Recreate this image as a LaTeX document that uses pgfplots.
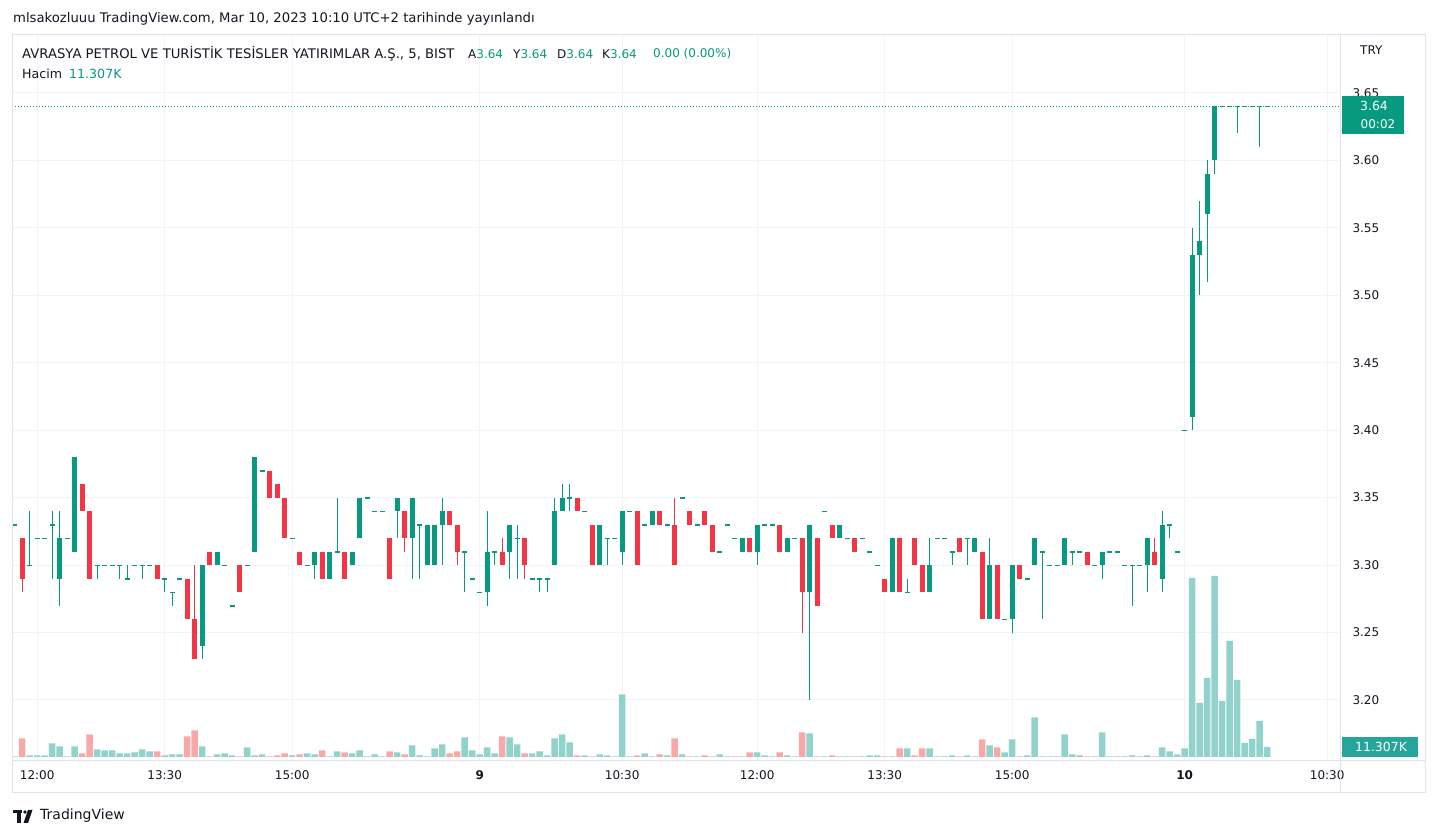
\documentclass[border=0pt]{standalone}
\usepackage{pgfplots}
\pgfplotsset{compat=1.18}
\usepackage{pgfplotstable}
\usepackage{fontspec}
\setmainfont{DejaVu Sans}
\definecolor{upc}{HTML}{089981}
\definecolor{dnc}{HTML}{F23645}
\definecolor{upv}{HTML}{92D2CC}
\definecolor{dnv}{HTML}{F7A9A8}
\definecolor{gridc}{HTML}{F0F3FA}
\definecolor{framec}{HTML}{E0E3EB}
\definecolor{txt}{HTML}{131722}
\definecolor{volbox}{HTML}{26A69A}

% i = bar index, o h l c = open high low close, v = volume bar height (px)
\pgfplotstableread{
i o h l c v
0 3.33 3.33 3.33 3.33 0.7
1 3.32 3.32 3.28 3.29 18.7
2 3.30 3.34 3.30 3.30 1.7
3 3.32 3.32 3.32 3.32 1.7
4 3.32 3.32 3.32 3.32 1.7
5 3.33 3.34 3.29 3.33 13.7
6 3.29 3.34 3.27 3.32 10.7
7 3.32 3.32 3.32 3.32 0.7
8 3.31 3.38 3.31 3.38 10.7
9 3.36 3.36 3.34 3.34 3.7
10 3.34 3.34 3.29 3.29 22.7
11 3.30 3.30 3.29 3.30 7.7
12 3.30 3.30 3.30 3.30 6.7
13 3.30 3.30 3.30 3.30 6.7
14 3.30 3.30 3.29 3.30 3.7
15 3.29 3.30 3.29 3.29 3.7
16 3.30 3.30 3.30 3.30 4.7
17 3.30 3.30 3.29 3.30 7.7
18 3.30 3.30 3.30 3.30 5.7
19 3.30 3.30 3.29 3.29 5.7
20 3.29 3.29 3.28 3.29 1.7
21 3.28 3.28 3.27 3.28 2.7
22 3.29 3.29 3.29 3.29 2.7
23 3.29 3.29 3.26 3.26 20.7
24 3.26 3.30 3.23 3.23 26.7
25 3.24 3.30 3.23 3.30 10.7
26 3.31 3.31 3.30 3.30 0.7
27 3.30 3.31 3.30 3.31 2.7
28 3.30 3.30 3.30 3.30 3.7
29 3.27 3.27 3.27 3.27 1.7
30 3.30 3.30 3.28 3.28 0.7
31 3.30 3.30 3.30 3.30 9.7
32 3.31 3.38 3.31 3.38 1.7
33 3.37 3.37 3.37 3.37 2.7
34 3.37 3.37 3.35 3.35 0.7
35 3.36 3.36 3.35 3.35 1.7
36 3.35 3.35 3.32 3.32 3.7
37 3.32 3.32 3.32 3.32 1.7
38 3.31 3.31 3.30 3.30 2.7
39 3.30 3.30 3.30 3.30 3.7
40 3.30 3.31 3.29 3.31 2.7
41 3.31 3.31 3.29 3.29 6.7
42 3.29 3.31 3.29 3.31 0.7
43 3.31 3.35 3.31 3.31 5.7
44 3.31 3.31 3.29 3.29 4.7
45 3.30 3.31 3.30 3.31 3.7
46 3.32 3.35 3.32 3.35 6.7
47 3.35 3.35 3.35 3.35 0.7
48 3.34 3.34 3.34 3.34 2.7
49 3.34 3.34 3.34 3.34 0.7
50 3.32 3.32 3.29 3.29 5.7
51 3.34 3.35 3.32 3.35 4.7
52 3.34 3.34 3.31 3.32 2.7
53 3.32 3.35 3.29 3.35 11.7
54 3.33 3.33 3.29 3.33 1.7
55 3.30 3.33 3.30 3.33 0.7
56 3.30 3.33 3.30 3.33 8.7
57 3.33 3.35 3.30 3.34 12.7
58 3.34 3.34 3.33 3.33 3.7
59 3.33 3.33 3.30 3.31 5.7
60 3.31 3.31 3.28 3.31 19.7
61 3.29 3.29 3.29 3.29 6.7
62 3.28 3.28 3.28 3.28 2.7
63 3.28 3.34 3.27 3.31 9.7
64 3.31 3.31 3.30 3.31 3.7
65 3.31 3.32 3.30 3.30 20.7
66 3.31 3.33 3.29 3.33 19.7
67 3.32 3.33 3.29 3.32 12.7
68 3.32 3.32 3.29 3.30 3.7
69 3.29 3.29 3.29 3.29 3.7
70 3.29 3.29 3.28 3.29 5.7
71 3.29 3.29 3.28 3.29 1.7
72 3.30 3.35 3.30 3.34 18.7
73 3.34 3.36 3.34 3.35 22.7
74 3.35 3.36 3.34 3.35 14.7
75 3.35 3.35 3.34 3.34 1.7
76 3.34 3.34 3.34 3.34 1.7
77 3.33 3.33 3.30 3.30 0.7
78 3.30 3.33 3.30 3.33 2.7
79 3.32 3.32 3.30 3.32 1.7
80 3.32 3.32 3.32 3.32 0.7
81 3.31 3.34 3.30 3.34 62.7
82 3.34 3.34 3.34 3.34 0.7
83 3.34 3.34 3.30 3.30 1.7
84 3.33 3.33 3.33 3.33 3.7
85 3.33 3.34 3.33 3.34 0.7
86 3.34 3.34 3.33 3.33 2.7
87 3.33 3.33 3.33 3.33 1.7
88 3.33 3.35 3.30 3.30 18.7
89 3.35 3.35 3.35 3.35 2.7
90 3.34 3.34 3.33 3.33 0.7
91 3.33 3.33 3.33 3.33 0.7
92 3.34 3.34 3.33 3.33 1.7
93 3.33 3.33 3.31 3.31 0.7
94 3.31 3.31 3.31 3.31 2.7
95 3.33 3.33 3.33 3.33 0.7
96 3.32 3.32 3.32 3.32 0.7
97 3.31 3.32 3.31 3.32 0.7
98 3.32 3.32 3.31 3.31 4.7
99 3.31 3.33 3.30 3.33 4.7
100 3.33 3.33 3.33 3.33 1.7
101 3.33 3.33 3.33 3.33 0.7
102 3.33 3.33 3.31 3.31 4.7
103 3.31 3.32 3.31 3.32 1.7
104 3.32 3.32 3.32 3.32 0.7
105 3.32 3.32 3.25 3.28 24.7
106 3.28 3.33 3.20 3.33 23.7
107 3.32 3.32 3.27 3.27 0.7
108 3.34 3.34 3.34 3.34 0.7
109 3.33 3.33 3.32 3.32 1.7
110 3.32 3.33 3.32 3.33 0.7
111 3.32 3.32 3.32 3.32 0.7
112 3.32 3.32 3.31 3.31 0.7
113 3.32 3.32 3.32 3.32 0.7
114 3.31 3.31 3.31 3.31 1.7
115 3.30 3.30 3.30 3.30 1.7
116 3.29 3.29 3.28 3.28 0.7
117 3.28 3.32 3.28 3.32 0.7
118 3.32 3.32 3.28 3.28 8.7
119 3.28 3.29 3.28 3.28 8.7
120 3.32 3.32 3.30 3.30 1.7
121 3.30 3.30 3.28 3.28 8.7
122 3.28 3.32 3.28 3.30 8.7
123 3.32 3.32 3.32 3.32 0.7
124 3.32 3.32 3.32 3.32 0.7
125 3.31 3.31 3.30 3.31 1.7
126 3.32 3.32 3.31 3.31 0.7
127 3.32 3.32 3.30 3.32 1.7
128 3.31 3.32 3.31 3.32 0.7
129 3.31 3.31 3.26 3.26 17.7
130 3.26 3.32 3.26 3.30 11.7
131 3.30 3.30 3.26 3.26 9.7
132 3.26 3.26 3.26 3.26 4.7
133 3.26 3.30 3.25 3.30 17.7
134 3.30 3.30 3.29 3.29 0.7
135 3.29 3.29 3.29 3.29 1.7
136 3.30 3.32 3.30 3.32 39.7
137 3.31 3.31 3.26 3.31 0.7
138 3.30 3.30 3.30 3.30 0.7
139 3.30 3.30 3.30 3.30 0.7
140 3.30 3.32 3.30 3.32 22.7
141 3.31 3.31 3.30 3.31 2.7
142 3.31 3.31 3.31 3.31 1.7
143 3.31 3.31 3.30 3.30 0.7
144 3.30 3.30 3.30 3.30 0.7
145 3.30 3.31 3.29 3.31 24.7
146 3.31 3.31 3.31 3.31 0.7
147 3.31 3.31 3.31 3.31 0.7
148 3.30 3.30 3.30 3.30 0.7
149 3.30 3.30 3.27 3.30 1.7
150 3.30 3.30 3.30 3.30 0.7
151 3.30 3.32 3.28 3.32 1.7
152 3.31 3.32 3.30 3.30 0.7
153 3.29 3.34 3.28 3.33 9.7
154 3.33 3.33 3.32 3.33 5.7
155 3.31 3.31 3.31 3.31 2.7
156 3.40 3.40 3.40 3.40 8.7
157 3.41 3.55 3.40 3.53 179
158 3.53 3.57 3.50 3.54 54
159 3.56 3.60 3.51 3.59 79
160 3.60 3.64 3.59 3.64 181
161 3.64 3.64 3.64 3.64 56
162 3.64 3.64 3.64 3.64 116
163 3.64 3.64 3.62 3.64 77
164 3.64 3.64 3.64 3.64 14
165 3.64 3.64 3.64 3.64 18
166 3.64 3.64 3.61 3.64 36
167 3.64 3.64 3.64 3.64 10
}\cdata

\pgfplotsset{
  upbar/.style={restrict expr to domain={\thisrow{c}-\thisrow{o}}{-0.004:1}},
  dnbar/.style={restrict expr to domain={\thisrow{c}-\thisrow{o}}{-1:-0.005}},
  frame/.style={at={(12pt,77pt)}, anchor=south west, scale only axis,
    width=1328pt, height=725pt, xmin=-0.36, xmax=176.71},
}
\newcommand{\tfont}{\fontsize{12}{14}\selectfont}
\newcommand{\hfont}{\fontsize{13.2}{15}\selectfont}

\begin{document}
\begin{tikzpicture}[x=1pt,y=1pt]
\useasboundingbox (0,0) rectangle (1437,837);
\fill[white] (0,0) rectangle (1437,837);

\begin{axis}[frame,
    ymin=3.1555, ymax=3.6929,
    axis line style={draw=none},
    major tick length=0pt,
    xtick={3,20,37,62,81,99,116,133,156,175},
    xticklabels={12:00,13:30,15:00,\textbf{9},10:30,12:00,13:30,15:00,\textbf{10},10:30},
    ytick={3.20,3.25,3.30,3.35,3.40,3.45,3.50,3.55,3.60,3.65},
    yticklabel pos=right,
    /pgf/number format/.cd, fixed, fixed zerofill, precision=2, assume math mode=true, /pgfplots/.cd,
    yticklabel style={xshift=9pt},
    xticklabel style={yshift=-7pt},
    tick label style={font=\tfont, text=txt},
    grid=major, grid style={gridc, line width=1pt},
  ]
  % last price line
  \addplot[upc, line width=1pt, dash pattern=on 1pt off 2pt] coordinates {(-0.36,3.64) (176.71,3.64)};
  % wicks
  \addplot[upbar, draw=none, mark=none, error bars/.cd, y dir=both, y explicit, error mark=none,
    error bar style={draw=upc, line width=1pt}]
    table[x=i, y expr={(\thisrow{h}+\thisrow{l})/2}, y error expr={(\thisrow{h}-\thisrow{l})/2}] {\cdata};
  \addplot[dnbar, draw=none, mark=none, error bars/.cd, y dir=both, y explicit, error mark=none,
    error bar style={draw=dnc, line width=1pt}]
    table[x=i, y expr={(\thisrow{h}+\thisrow{l})/2}, y error expr={(\thisrow{h}-\thisrow{l})/2}] {\cdata};
  % bodies
  \addplot[upbar, draw=none, mark=none, error bars/.cd, y dir=both, y explicit, error mark=none,
    error bar style={draw=upc, line width=5pt}]
    table[x=i, y expr={(\thisrow{o}+\thisrow{c})/2}, y error expr={max(abs(\thisrow{c}-\thisrow{o})/2,0.00037)}] {\cdata};
  \addplot[dnbar, draw=none, mark=none, error bars/.cd, y dir=both, y explicit, error mark=none,
    error bar style={draw=dnc, line width=5pt}]
    table[x=i, y expr={(\thisrow{o}+\thisrow{c})/2}, y error expr={abs(\thisrow{c}-\thisrow{o})/2}] {\cdata};
\end{axis}

\begin{axis}[frame, ymin=-3, ymax=722, hide axis]
  \addplot[upbar, ybar, bar width=6.5pt, fill=upv, draw=none] table[x=i, y=v] {\cdata};
  \addplot[dnbar, ybar, bar width=6.5pt, fill=dnv, draw=none] table[x=i, y=v] {\cdata};
\end{axis}

% frame lines
\draw[framec, line width=1pt] (12,837-35) rectangle (1425,837-793);
\draw[framec, line width=1pt] (1340,837-35) -- (1340,837-793);
\draw[framec, line width=1pt] (12,837-761) -- (1425,837-761);

% header
\node[anchor=west, inner sep=0, text=txt, font=\hfont] at (13,837-19)
  {mlsakozluuu TradingView.com, Mar 10, 2023 10:10 UTC+2 tarihinde yayınlandı};
\node[anchor=west, inner sep=0, text=txt, font=\hfont] at (22,837-54)
  {AVRASYA PETROL VE TURİSTİK TESİSLER YATIRIMLAR A.Ş., 5, BIST};
\node[anchor=west, inner sep=0, text=txt, font=\tfont] at (468,837-54) {A\textcolor{upc}{3.64}};
\node[anchor=west, inner sep=0, text=txt, font=\tfont] at (513,837-54) {Y\textcolor{upc}{3.64}};
\node[anchor=west, inner sep=0, text=txt, font=\tfont] at (557,837-54) {D\textcolor{upc}{3.64}};
\node[anchor=west, inner sep=0, text=txt, font=\tfont] at (602,837-54) {K\textcolor{upc}{3.64}};
\node[anchor=west, inner sep=0, text=upc, font=\tfont] at (653,837-54) {0.00 (0.00\%)};
\node[anchor=west, inner sep=0, text=txt, font=\fontsize{12.6}{14}\selectfont] at (22,837-74) {Hacim};
\node[anchor=west, inner sep=0, text=upc, font=\fontsize{12.6}{14}\selectfont] at (69,837-74) {11.307K};
\node[anchor=west, inner sep=0, text=txt, font=\tfont] at (1360,837-50) {TRY};

% price scale labels
\fill[upc] (1342,837-96) rectangle (1404,837-134);
\node[text=white, font=\fontsize{12.5}{14}\selectfont, inner sep=0] at (1374,837-106) {3.64};
\node[text=white, font=\tfont, inner sep=0] at (1378,837-124) {00:02};
\fill[volbox] (1342,837-737) rectangle (1418,837-757);
\node[text=white, font=\fontsize{12.5}{14}\selectfont, inner sep=0] at (1381,837-747) {11.307K};

% TradingView logo
\fill[txt] (13,837-810) rectangle (22,837-813.5);
\fill[txt] (17,837-813.5) rectangle (20.5,837-823);
\fill[txt] (25,837-812) circle (1.9);
\fill[txt] (28,837-810) -- (32.5,837-810) -- (28,837-823) -- (23.5,837-823) -- cycle;
\node[anchor=west, inner sep=0, text=txt, font=\fontsize{14}{16}\selectfont] at (40,837-816) {TradingView};
\end{tikzpicture}
\end{document}
